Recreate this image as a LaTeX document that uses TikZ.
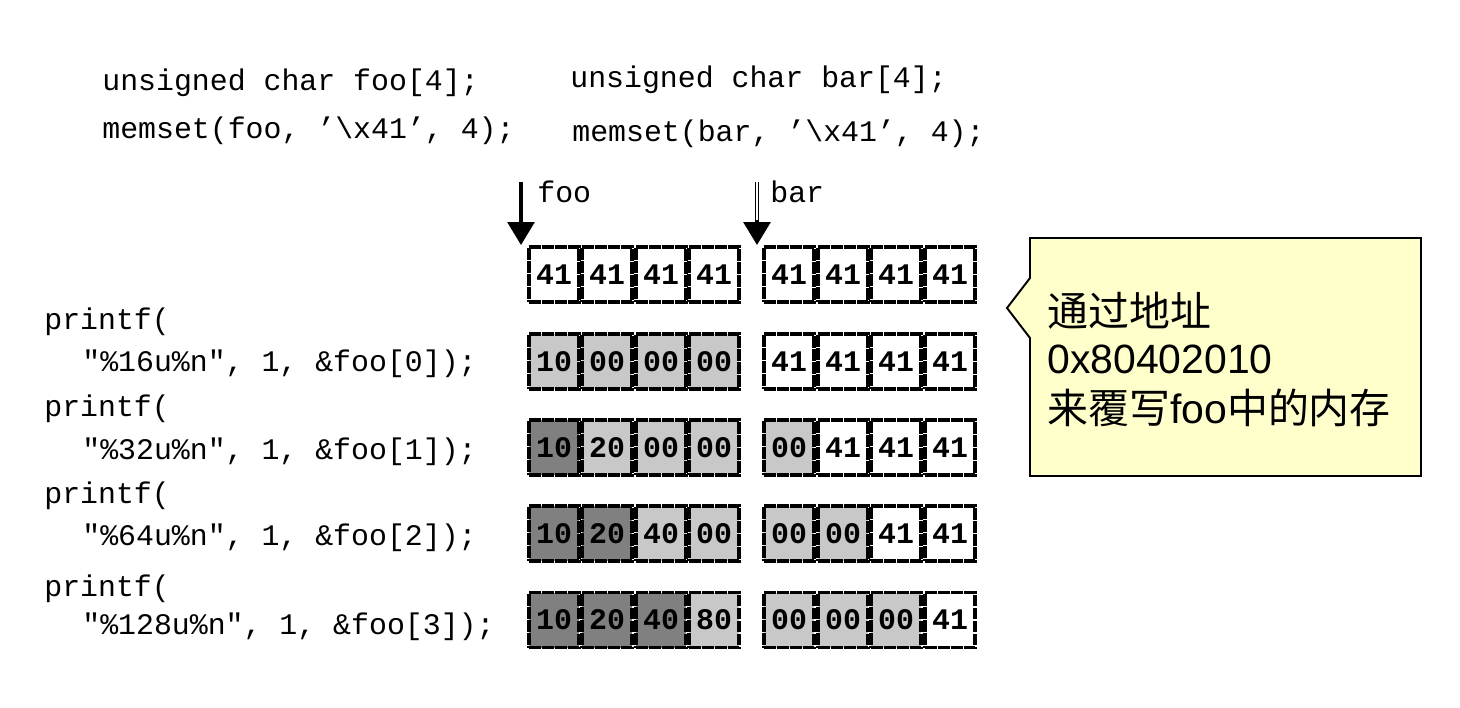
\documentclass[tikz,border=0pt]{standalone}
\usepackage{fontspec}
\usetikzlibrary{arrows.meta}
\setmainfont{Liberation Sans}
\setmonofont{Liberation Mono}
\newfontfamily\cjk{Noto Sans CJK SC}
\definecolor{lightcell}{RGB}{200,200,200}
\definecolor{darkcell}{RGB}{128,128,128}
\definecolor{notefill}{RGB}{255,255,204}

\tikzset{
  code/.style={anchor=base west, inner sep=0pt, font=\fontsize{17}{20}\selectfont\ttfamily},
  cell/.style={draw, line width=2.2pt, dash pattern=on 6.8pt off 0.6pt, minimum width=1.0cm, minimum height=1.1cm, inner sep=0pt, font=\fontsize{17}{20}\selectfont\ttfamily\bfseries},
  lt/.style={fill=lightcell},
  dk/.style={fill=darkcell},
  ptr/.style={line width=2.4pt, -{Triangle[width=15pt,length=13pt]}},
  note/.style={anchor=base west, inner sep=0pt, font=\fontsize{23.3}{28}\selectfont}
}

\begin{document}
\begin{tikzpicture}[x=0.02cm, y=-0.02cm]
\useasboundingbox (0,0) rectangle (1460,707);

\node[code] (decfoo) at (102,90) {unsigned char foo[4];};
\node[code] (setfoo) at (102,138) {memset(foo, ’\textbackslash x41’, 4);};
\node[code] (decbar) at (570,87) {unsigned char bar[4];};
\node[code] (setbar) at (572,141) {memset(bar, ’\textbackslash x41’, 4);};

\node[code] (call1) at (44,329) {printf(};
\node[code] (args1) at (82,371) {"\%16u\%n", 1, \&foo[0]);};
\node[code] (call2) at (44,416) {printf(};
\node[code] (args2) at (82,459) {"\%32u\%n", 1, \&foo[1]);};
\node[code] (call3) at (44,503) {printf(};
\node[code] (args3) at (82,545) {"\%64u\%n", 1, \&foo[2]);};
\node[code] (call4) at (44,596) {printf(};
\node[code] (args4) at (82,634) {"\%128u\%n", 1, \&foo[3]);};

% row 0
\node[cell] (f0-1) at (554,274.5) {41};
\node[cell] (f0-2) at (607,274.5) {41};
\node[cell] (f0-3) at (661,274.5) {41};
\node[cell] (f0-4) at (714,274.5) {41};
\node[cell] (b0-1) at (789,274.5) {41};
\node[cell] (b0-2) at (843,274.5) {41};
\node[cell] (b0-3) at (896,274.5) {41};
\node[cell] (b0-4) at (950,274.5) {41};
% row 1
\node[cell,lt] (f1-1) at (554,361.5) {10};
\node[cell,lt] (f1-2) at (607,361.5) {00};
\node[cell,lt] (f1-3) at (661,361.5) {00};
\node[cell,lt] (f1-4) at (714,361.5) {00};
\node[cell] (b1-1) at (789,361.5) {41};
\node[cell] (b1-2) at (843,361.5) {41};
\node[cell] (b1-3) at (896,361.5) {41};
\node[cell] (b1-4) at (950,361.5) {41};
% row 2
\node[cell,dk] (f2-1) at (554,447.5) {10};
\node[cell,lt] (f2-2) at (607,447.5) {20};
\node[cell,lt] (f2-3) at (661,447.5) {00};
\node[cell,lt] (f2-4) at (714,447.5) {00};
\node[cell,lt] (b2-1) at (789,447.5) {00};
\node[cell] (b2-2) at (843,447.5) {41};
\node[cell] (b2-3) at (896,447.5) {41};
\node[cell] (b2-4) at (950,447.5) {41};
% row 3
\node[cell,dk] (f3-1) at (554,533.5) {10};
\node[cell,dk] (f3-2) at (607,533.5) {20};
\node[cell,lt] (f3-3) at (661,533.5) {40};
\node[cell,lt] (f3-4) at (714,533.5) {00};
\node[cell,lt] (b3-1) at (789,533.5) {00};
\node[cell,lt] (b3-2) at (843,533.5) {00};
\node[cell] (b3-3) at (896,533.5) {41};
\node[cell] (b3-4) at (950,533.5) {41};
% row 4
\node[cell,dk] (f4-1) at (554,620) {10};
\node[cell,dk] (f4-2) at (607,620) {20};
\node[cell,dk] (f4-3) at (661,620) {40};
\node[cell,lt] (f4-4) at (714,620) {80};
\node[cell,lt] (b4-1) at (789,620) {00};
\node[cell,lt] (b4-2) at (843,620) {00};
\node[cell,lt] (b4-3) at (896,620) {00};
\node[cell] (b4-4) at (950,620) {41};

% pointers
\coordinate (fooptr) at (521,182);
\coordinate (barptr) at (757,182);
\draw[ptr] (fooptr) -- (fooptr |- f0-1.north);
\draw[ptr] (barptr) -- (barptr |- b0-1.north);
\draw[white, line width=0.7pt] (barptr) -- ++(0,38);
\node[code] (foolbl) at (537,202) {foo};
\node[code] (barlbl) at (770,202) {bar};

% callout
\draw[line width=1.1pt, fill=notefill] (1030,238) -- (1421,238) -- (1421,476) -- (1030,476) -- (1030,338) -- (1007,308) -- (1030,278) -- cycle;
\node[note] (note1) at (1047,326) {\cjk 通过地址};
\node[note] (note2) at (1047,373) {0x80402010};
\node[note] (note3) at (1047,423) {{\cjk 来覆写}foo{\cjk 中的内存}};

\end{tikzpicture}
\end{document}
